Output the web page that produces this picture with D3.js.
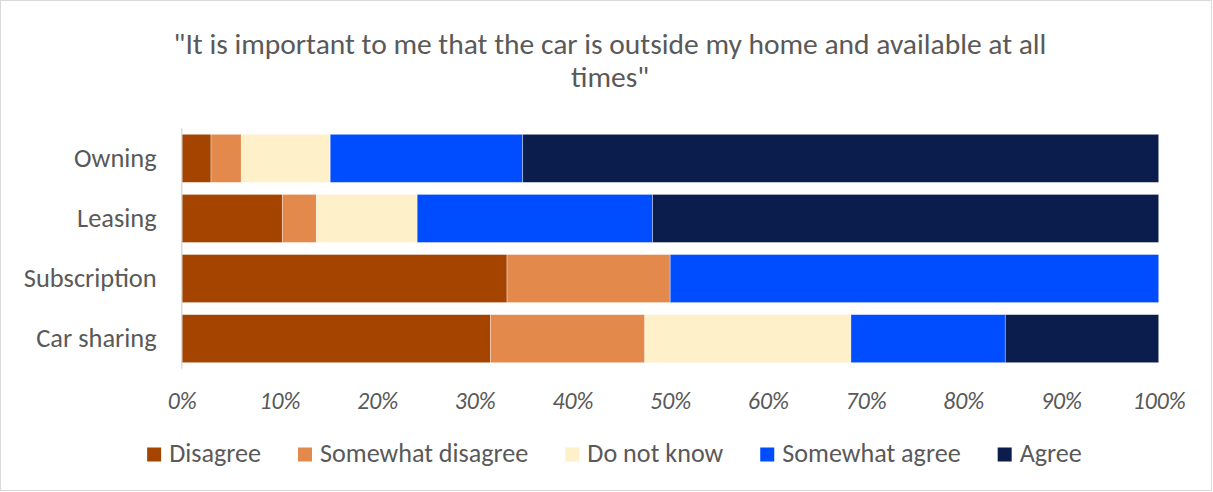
<!DOCTYPE html>
<html><head><meta charset="utf-8">
<script src="https://cdn.jsdelivr.net/npm/d3@7"></script>
<style>body{margin:0;background:#fff}svg{display:block}text{font-family:Carlito,"Open Sans",sans-serif;fill:#595959}</style>
</head><body><svg id="c" width="1213" height="492"></svg>
<script>
const categories = ["Owning","Leasing","Subscription","Car sharing"];
const seriesNames = ["Disagree","Somewhat disagree","Do not know","Somewhat agree","Agree"];
const disagree = [3.0, 10.3, 33.3, 31.6];
const somewhatDisagree = [3.1, 3.5, 16.7, 15.8];
const doNotKnow = [9.1, 10.3, 0, 21.1];
const somewhatAgree = [19.7, 24.1, 50.0, 15.8];
const agree = [65.1, 51.8, 0, 15.7];
const tickValues = [0,10,20,30,40,50,60,70,80,90,100];
const colors = ["#A54400","#E3894B","#FEF0C8","#004DFF","#0A1D4D"];
const titleLines = ["\"It is important to me that the car is outside my home and available at all", "times\""];

const svg = d3.select("#c");
svg.append("rect").attr("x",0.5).attr("y",0.5).attr("width",1211).attr("height",490)
  .attr("fill","#fff").attr("stroke","#d9d9d9");

function fit(sel, target){
  const w = sel.node().getComputedTextLength();
  const fs = parseFloat(sel.attr("font-size"));
  sel.attr("font-size", fs*target/w);
}

// title
const t1 = svg.append("text").attr("x",610).attr("y",54).attr("text-anchor","middle")
  .attr("font-size",24).text(titleLines[0]);
fit(t1, 873);
svg.append("text").attr("x",610).attr("y",87).attr("text-anchor","middle")
  .attr("font-size",t1.attr("font-size")).text(titleLines[1]);

const x = d3.scaleLinear().domain([0,100]).range([181.7,1158.7]);
const y = d3.scaleBand().domain(categories).range([128.3,368.7]).paddingInner(0.2).paddingOuter(0.1);

const rows = categories.map((c,i)=>{
  const vals=[disagree[i],somewhatDisagree[i],doNotKnow[i],somewhatAgree[i],agree[i]];
  const tot=d3.sum(vals);
  const o={cat:c}; seriesNames.forEach((s,j)=>o[s]=vals[j]*100/tot); return o;
});
const stacked = d3.stack().keys(seriesNames)(rows);

svg.append("g").selectAll("g").data(stacked).join("g")
  .attr("fill",(d,i)=>colors[i])
  .selectAll("rect").data(d=>d.filter(p=>p[1]-p[0]>0)).join("rect")
  .attr("x",d=>x(d[0])).attr("width",d=>x(d[1])-x(d[0]))
  .attr("y",d=>y(d.data.cat)).attr("height",y.bandwidth())
  .attr("stroke","#fff").attr("stroke-opacity",0.45).attr("stroke-width",0.8);

// y axis line
svg.append("line").attr("x1",181.7).attr("x2",181.7).attr("y1",128.3).attr("y2",368.7)
  .attr("stroke","#d9d9d9").attr("stroke-width",1.5);

// category labels
const yAxis = svg.append("g").attr("transform","translate(181.7,0)")
  .call(d3.axisLeft(y).tickSize(0).tickPadding(25));
yAxis.select(".domain").remove();
yAxis.selectAll("text").attr("font-size",23).attr("font-family",'Carlito,"Open Sans",sans-serif')
  .attr("fill","#595959").attr("dy","0.32em");
fit(yAxis.selectAll("text").filter(d=>d==="Subscription"), 133);
const cfs = yAxis.selectAll("text").filter(d=>d==="Subscription").attr("font-size");
yAxis.selectAll("text").attr("font-size",cfs);

// x axis
const xAxis = svg.append("g").attr("transform","translate(0,392)")
  .call(d3.axisBottom(x).tickValues(tickValues).tickFormat(d=>d+"%").tickSize(0).tickPadding(0));
xAxis.select(".domain").remove();
xAxis.selectAll("text").attr("font-size",20).attr("font-style","italic")
  .attr("font-family",'Carlito,"Open Sans",sans-serif').attr("fill","#595959").attr("dy","0.71em");
fit(xAxis.selectAll("text").filter(d=>d===100), 53);
const xfs = xAxis.selectAll("text").filter(d=>d===100).attr("font-size");
xAxis.selectAll("text").attr("font-size",xfs);

// legend
const lg = svg.append("g");
const items = lg.selectAll("g").data(seriesNames).join("g");
items.append("rect").attr("width",14).attr("height",14).attr("y",447.5).attr("fill",(d,i)=>colors[i]);
const lt = items.append("text").attr("x",22).attr("y",461.5).attr("font-size",22).text(d=>d);
fit(d3.select(lt.nodes()[2]), 136);
const lfs = d3.select(lt.nodes()[2]).attr("font-size");
lt.attr("font-size",lfs);
const squareX = [143];
let cx = 143;
lt.each(function(d,i){ if(i>0){} });
const widths = lt.nodes().map(n=>n.getComputedTextLength());
for(let i=1;i<seriesNames.length;i++){ cx += 22 + widths[i-1] + 37; squareX.push(cx); }
// center legend
const totalW = squareX[squareX.length-1] + 22 + widths[widths.length-1] - squareX[0];
const shift = (143 + (1086-143)/2) - (squareX[0] + totalW/2);
items.attr("transform",(d,i)=>`translate(${squareX[i]+shift},0)`);
</script></body></html>
